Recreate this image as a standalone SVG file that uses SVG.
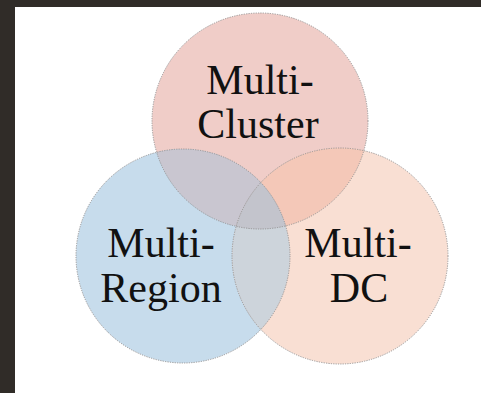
<svg xmlns="http://www.w3.org/2000/svg" width="481" height="393" viewBox="0 0 481 393">
<style>
.lbl{font-family:"Liberation Serif","Times New Roman",serif;font-size:42px;fill:#111;text-anchor:middle}
.ring{fill:none;stroke:#8f8c8c;stroke-width:0.9;stroke-dasharray:1.2 1.2}
</style>
<defs>
<clipPath id="cT"><circle cx="260" cy="121" r="108"/></clipPath>
<clipPath id="cL"><circle cx="183" cy="256" r="107"/></clipPath>
<clipPath id="cR"><circle cx="340" cy="256" r="108"/></clipPath>
</defs>
<rect x="0" y="0" width="481" height="393" fill="#302c28"/>
<rect x="15" y="7" width="466" height="386" fill="#ffffff"/>
<g id="fills">
<circle cx="260" cy="121" r="108" fill="#f0cdc8"/>
<circle cx="183" cy="256" r="107" fill="#c7dcec"/>
<circle cx="340" cy="256" r="108" fill="#f9dfd3"/>
<circle cx="183" cy="256" r="107" fill="#c9c6d0" clip-path="url(#cT)"/>
<circle cx="340" cy="256" r="108" fill="#f4c8b8" clip-path="url(#cT)"/>
<circle cx="340" cy="256" r="108" fill="#cdd4db" clip-path="url(#cL)"/>
<g clip-path="url(#cT)"><circle cx="340" cy="256" r="108" fill="#c3c4cc" clip-path="url(#cL)"/></g>
</g>
<g id="connectors"></g>
<g id="node-cluster">
<circle class="ring" cx="260" cy="121" r="108"/>
<text class="lbl" x="260" y="94">Multi-</text>
<text class="lbl" x="258" y="138">Cluster</text>
</g>
<g id="node-region">
<circle class="ring" cx="183" cy="256" r="107"/>
<text class="lbl" x="161" y="257">Multi-</text>
<text class="lbl" x="161" y="302">Region</text>
</g>
<g id="node-dc">
<circle class="ring" cx="340" cy="256" r="108"/>
<text class="lbl" x="358" y="257">Multi-</text>
<text class="lbl" x="359" y="302">DC</text>
</g>
</svg>
